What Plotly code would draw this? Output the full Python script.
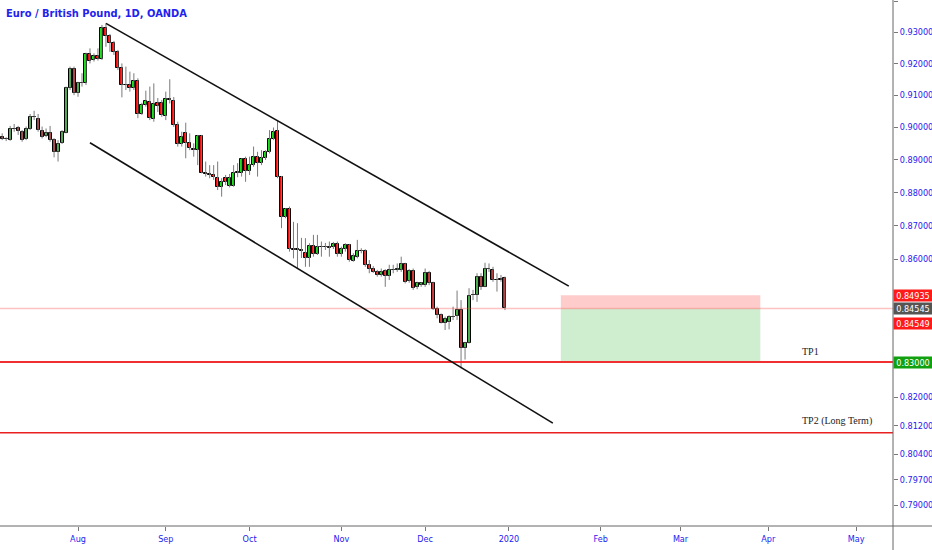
import numpy as np
import pandas as pd
import plotly.graph_objects as go

# ---------------- data ----------------
holidays = ["2019-12-25"]
candle_dates = [d.strftime("%Y-%m-%d") for d in pd.bdate_range("2019-07-05", "2019-12-31")
                if d.strftime("%Y-%m-%d") not in holidays]

opens = [0.8971, 0.8963, 0.8960, 0.8993, 0.8997, 0.8986, 0.8963, 0.8993, 0.9032, 0.9025,
         0.8988, 0.8972, 0.8981, 0.8960, 0.8924, 0.8950, 0.8983, 0.9122, 0.9181, 0.9108,
         0.9137, 0.9137, 0.9229, 0.9211, 0.9224, 0.9213, 0.9312, 0.9288, 0.9264, 0.9237,
         0.9187, 0.9132, 0.9132, 0.9122, 0.9145, 0.9041, 0.9069, 0.9079, 0.9025, 0.9076,
         0.9075, 0.9035, 0.9087, 0.9083, 0.9007, 0.8948, 0.8983, 0.8950, 0.8933, 0.8929,
         0.8972, 0.8858, 0.8855, 0.8853, 0.8843, 0.8815, 0.8843, 0.8819, 0.8819, 0.8860,
         0.8860, 0.8901, 0.8866, 0.8883, 0.8909, 0.8890, 0.8905, 0.8924, 0.8963, 0.8989,
         0.8846, 0.8725, 0.8749, 0.8630, 0.8628, 0.8628, 0.8617, 0.8602, 0.8640, 0.8615,
         0.8636, 0.8636, 0.8635, 0.8635, 0.8644, 0.8615, 0.8629, 0.8642, 0.8595, 0.8607,
         0.8624, 0.8625, 0.8582, 0.8570, 0.8562, 0.8553, 0.8565, 0.8550, 0.8567, 0.8569,
         0.8568, 0.8584, 0.8536, 0.8565, 0.8517, 0.8523, 0.8523, 0.8559, 0.8528, 0.8452,
         0.8435, 0.8413, 0.8416, 0.8430, 0.8433, 0.8450, 0.8339, 0.8355, 0.8493, 0.8494,
         0.8548, 0.8518, 0.8571, 0.8568, 0.8538, 0.8540, 0.8543]
highs = [0.8981, 0.8969, 0.9004, 0.9010, 0.9004, 0.8991, 0.9002, 0.9041, 0.9051, 0.9041,
         0.9002, 0.8996, 0.9004, 0.8966, 0.8960, 0.8991, 0.9127, 0.9190, 0.9190, 0.9142,
         0.9169, 0.9234, 0.9248, 0.9232, 0.9248, 0.9323, 0.9328, 0.9294, 0.9272, 0.9243,
         0.9200, 0.9190, 0.9174, 0.9169, 0.9153, 0.9076, 0.9114, 0.9127, 0.9137, 0.9091,
         0.9085, 0.9111, 0.9150, 0.9094, 0.9017, 0.8986, 0.9014, 0.8981, 0.8950, 0.8976,
         0.8976, 0.8894, 0.8883, 0.8883, 0.8894, 0.8843, 0.8853, 0.8856, 0.8883, 0.8889,
         0.8904, 0.8909, 0.8909, 0.8940, 0.8924, 0.8929, 0.8929, 0.8991, 0.8999, 0.9020,
         0.8850, 0.8752, 0.8757, 0.8711, 0.8707, 0.8663, 0.8662, 0.8647, 0.8672, 0.8672,
         0.8652, 0.8648, 0.8652, 0.8651, 0.8652, 0.8637, 0.8647, 0.8645, 0.8617, 0.8657,
         0.8632, 0.8629, 0.8597, 0.8579, 0.8568, 0.8572, 0.8570, 0.8583, 0.8583, 0.8587,
         0.8607, 0.8589, 0.8570, 0.8572, 0.8533, 0.8532, 0.8572, 0.8565, 0.8533, 0.8460,
         0.8440, 0.8431, 0.8435, 0.8460, 0.8507, 0.8479, 0.8358, 0.8514, 0.8509, 0.8558,
         0.8558, 0.8589, 0.8587, 0.8577, 0.8558, 0.8553, 0.8548]
lows = [0.8960, 0.8957, 0.8958, 0.8986, 0.8976, 0.8955, 0.8960, 0.8991, 0.9022, 0.8986,
        0.8965, 0.8969, 0.8955, 0.8907, 0.8894, 0.8948, 0.8981, 0.9116, 0.9100, 0.9095,
        0.9127, 0.9132, 0.9200, 0.9206, 0.9209, 0.9211, 0.9253, 0.9237, 0.9227, 0.9179,
        0.9093, 0.9116, 0.9111, 0.9116, 0.9028, 0.9038, 0.9064, 0.9022, 0.9017, 0.9047,
        0.9032, 0.9022, 0.9074, 0.9001, 0.8940, 0.8940, 0.8904, 0.8929, 0.8909, 0.8883,
        0.8858, 0.8848, 0.8843, 0.8838, 0.8807, 0.8787, 0.8822, 0.8815, 0.8817, 0.8846,
        0.8848, 0.8832, 0.8853, 0.8878, 0.8848, 0.8883, 0.8899, 0.8919, 0.8960, 0.8843,
        0.8692, 0.8722, 0.8622, 0.8602, 0.8573, 0.8603, 0.8577, 0.8577, 0.8607, 0.8612,
        0.8607, 0.8627, 0.8607, 0.8630, 0.8607, 0.8607, 0.8622, 0.8592, 0.8592, 0.8602,
        0.8617, 0.8577, 0.8558, 0.8559, 0.8548, 0.8548, 0.8518, 0.8538, 0.8558, 0.8562,
        0.8562, 0.8528, 0.8530, 0.8509, 0.8511, 0.8518, 0.8518, 0.8523, 0.8450, 0.8426,
        0.8411, 0.8392, 0.8394, 0.8421, 0.8421, 0.8282, 0.8307, 0.8353, 0.8479, 0.8474,
        0.8509, 0.8517, 0.8562, 0.8533, 0.8504, 0.8533, 0.8450]
closes = [0.8963, 0.8962, 0.8993, 0.8995, 0.8988, 0.8960, 0.8993, 0.9033, 0.9031, 0.8991,
          0.8971, 0.8981, 0.8960, 0.8924, 0.8948, 0.8986, 0.9122, 0.9181, 0.9108, 0.9137,
          0.9138, 0.9229, 0.9208, 0.9224, 0.9213, 0.9312, 0.9288, 0.9266, 0.9235, 0.9187,
          0.9132, 0.9131, 0.9122, 0.9145, 0.9041, 0.9069, 0.9082, 0.9028, 0.9072, 0.9066,
          0.9038, 0.9087, 0.9084, 0.9007, 0.8948, 0.8971, 0.8950, 0.8937, 0.8931, 0.8972,
          0.8860, 0.8856, 0.8853, 0.8846, 0.8815, 0.8832, 0.8832, 0.8843, 0.8860, 0.8862,
          0.8901, 0.8866, 0.8883, 0.8909, 0.8890, 0.8904, 0.8923, 0.8963, 0.8986, 0.8846,
          0.8725, 0.8749, 0.8629, 0.8628, 0.8630, 0.8625, 0.8602, 0.8640, 0.8615, 0.8637,
          0.8637, 0.8635, 0.8634, 0.8644, 0.8615, 0.8629, 0.8642, 0.8597, 0.8609, 0.8625,
          0.8625, 0.8582, 0.8570, 0.8562, 0.8553, 0.8562, 0.8550, 0.8568, 0.8568, 0.8570,
          0.8584, 0.8533, 0.8565, 0.8514, 0.8528, 0.8528, 0.8559, 0.8528, 0.8452, 0.8435,
          0.8413, 0.8423, 0.8429, 0.8431, 0.8450, 0.8339, 0.8355, 0.8491, 0.8494, 0.8548,
          0.8518, 0.8572, 0.8570, 0.8538, 0.8539, 0.8539, 0.8455]

month_tick_dates = ["2019-08-01", "2019-09-02", "2019-10-01", "2019-11-01", "2019-12-02",
                    "2020-01-01", "2020-02-03", "2020-03-02", "2020-04-01", "2020-05-01"]
month_tick_labels = ["Aug", "Sep", "Oct", "Nov", "Dec", "2020", "Feb", "Mar", "Apr", "May"]

# scale ticks (0.83 / 0.84 / 0.85 sit under the price labels in the reference)
price_ticks = [0.790, 0.797, 0.804, 0.812, 0.820, 0.860, 0.870,
               0.880, 0.890, 0.900, 0.910, 0.920, 0.930, 0.940]

# drawings (date, price)
upper_channel = [("2019-08-12", 0.9328), ("2020-01-22", 0.8520)]
lower_channel = [("2019-08-06", 0.8952), ("2020-01-16", 0.8127)]
position_dates = ["2020-01-20", "2020-03-30"]
stop_price = 0.84935
entry_price = 0.84549
target_price = 0.83000
last_price = 0.84545
tp2_price = 0.8100
tp_labels = [("TP1", 0.8330), ("TP2 (Long Term)", 0.8133)]
tp_label_date = "2020-04-13"

title = "Euro / British Pound, 1D, OANDA"

# ---------------- trading calendar (bar index axis) ----------------
cal = [d.strftime("%Y-%m-%d") for d in pd.bdate_range("2019-07-01", "2020-06-30")
       if d.strftime("%Y-%m-%d") not in holidays]
pos = {d: i for i, d in enumerate(cal)}

xs = [pos[d] for d in candle_dates]
o = np.array(opens); h = np.array(highs); l = np.array(lows); c = np.array(closes)
up = c >= o
body_lo = np.minimum(o, c)
body_h = np.maximum(np.abs(c - o), 0.00004)

UP = "#22dd22"
DN = "#e80e0e"
AXBLUE = "#2222ee"
FONT_NARROW = "Liberation Sans Narrow, DejaVu Sans Condensed, Liberation Sans, Arial"

fig = go.Figure()

# wicks
wx, wy = [], []
for xi, hi, lo in zip(xs, highs, lows):
    wx += [xi, xi, None]
    wy += [lo, hi, None]
fig.add_trace(go.Scatter(x=wx, y=wy, mode="lines", line=dict(color="#7a7a7a", width=1),
                         hoverinfo="skip"))

# bodies
fig.add_trace(go.Bar(x=xs, y=body_h, base=body_lo, width=0.75,
                     marker=dict(color=[UP if u else DN for u in up],
                                 line=dict(color="#000000", width=1)),
                     hoverinfo="skip"))

shapes = []
x0_plot = pos[position_dates[0]]
x1_plot = pos[position_dates[1]]
# position tool boxes
shapes.append(dict(type="rect", xref="x", yref="y", x0=x0_plot, x1=x1_plot,
                   y0=entry_price, y1=stop_price, fillcolor="rgba(255,0,0,0.2)",
                   line=dict(width=0), layer="below"))
shapes.append(dict(type="rect", xref="x", yref="y", x0=x0_plot, x1=x1_plot,
                   y0=target_price, y1=entry_price, fillcolor="rgba(0,160,0,0.19)",
                   line=dict(width=0), layer="below"))
# current price line
shapes.append(dict(type="line", xref="paper", yref="y", x0=0, x1=1, y0=last_price, y1=last_price,
                   line=dict(color="rgba(255,80,80,0.35)", width=1.5)))
# TP lines
shapes.append(dict(type="line", xref="paper", yref="y", x0=0, x1=1, y0=target_price, y1=target_price,
                   line=dict(color="#f03030", width=2)))
shapes.append(dict(type="line", xref="paper", yref="y", x0=0, x1=1, y0=tp2_price, y1=tp2_price,
                   line=dict(color="#e82020", width=1.5)))
# channel lines
for (d0, p0), (d1, p1) in [upper_channel, lower_channel]:
    shapes.append(dict(type="line", xref="x", yref="y", x0=pos[d0], x1=pos[d1], y0=p0, y1=p1,
                       line=dict(color="#111111", width=1.6)))
# scale borders
shapes.append(dict(type="line", xref="paper", yref="paper", x0=1, x1=1, y0=-24 / 526, y1=1,
                   line=dict(color="#666666", width=1)))
shapes.append(dict(type="line", xref="paper", yref="paper", x0=0, x1=932 / 893, y0=0, y1=0,
                   line=dict(color="#666666", width=1)))

annotations = []
annotations.append(dict(xref="paper", yref="paper", x=0, y=1, xanchor="left", yanchor="top",
                        xshift=4, yshift=-5, showarrow=False,
                        text="<b>" + title + "</b>",
                        font=dict(family=FONT_NARROW, size=11, color=AXBLUE)))
# annotations on a log axis take log10 positions
for txt, py in tp_labels:
    annotations.append(dict(xref="x", yref="y", x=pos[tp_label_date], y=np.log10(py),
                            xanchor="left", yanchor="middle", showarrow=False, text=txt,
                            font=dict(family="Liberation Serif, Times New Roman, serif",
                                      size=10, color="#222222")))
# price labels on the scale
for val, bg, ysh in [(stop_price, "#ff1a1a", 0), (last_price, "#555555", 0),
                     (entry_price, "#ff1a1a", -15), (target_price, "#10a010", 0)]:
    annotations.append(dict(xref="paper", yref="y", x=1, y=np.log10(val), xanchor="left",
                            yanchor="middle", xshift=0, yshift=ysh, showarrow=False,
                            text=f"{val:.5f}", bgcolor=bg, width=38, height=11, borderpad=0,
                            align="center",
                            font=dict(family=FONT_NARROW, size=9, color="white")))

fig.update_layout(width=932, height=550, margin=dict(l=0, r=39, t=0, b=24),
                  paper_bgcolor="white", plot_bgcolor="white", showlegend=False,
                  shapes=shapes, annotations=annotations, bargap=0)
fig.update_xaxes(range=[3.45, 227.25], tickvals=[pos[d] for d in month_tick_dates],
                 ticktext=month_tick_labels, showgrid=False, zeroline=False, showline=False,
                 ticks="outside", ticklen=4, tickcolor="#777777",
                 tickfont=dict(family=FONT_NARROW, size=9, color=AXBLUE))
fig.update_yaxes(type="log", range=[np.log10(0.78437), np.log10(0.94035)], side="right",
                 tickvals=price_ticks, ticktext=[f"{v:.5f}" for v in price_ticks],
                 showgrid=False, zeroline=False, showline=False,
                 ticks="outside", ticklen=4, tickcolor="#777777",
                 tickfont=dict(family=FONT_NARROW, size=9, color=AXBLUE))

fig.write_html("out.html", config=dict(displayModeBar=False),
               post_script="document.body.style.margin='0px';")
